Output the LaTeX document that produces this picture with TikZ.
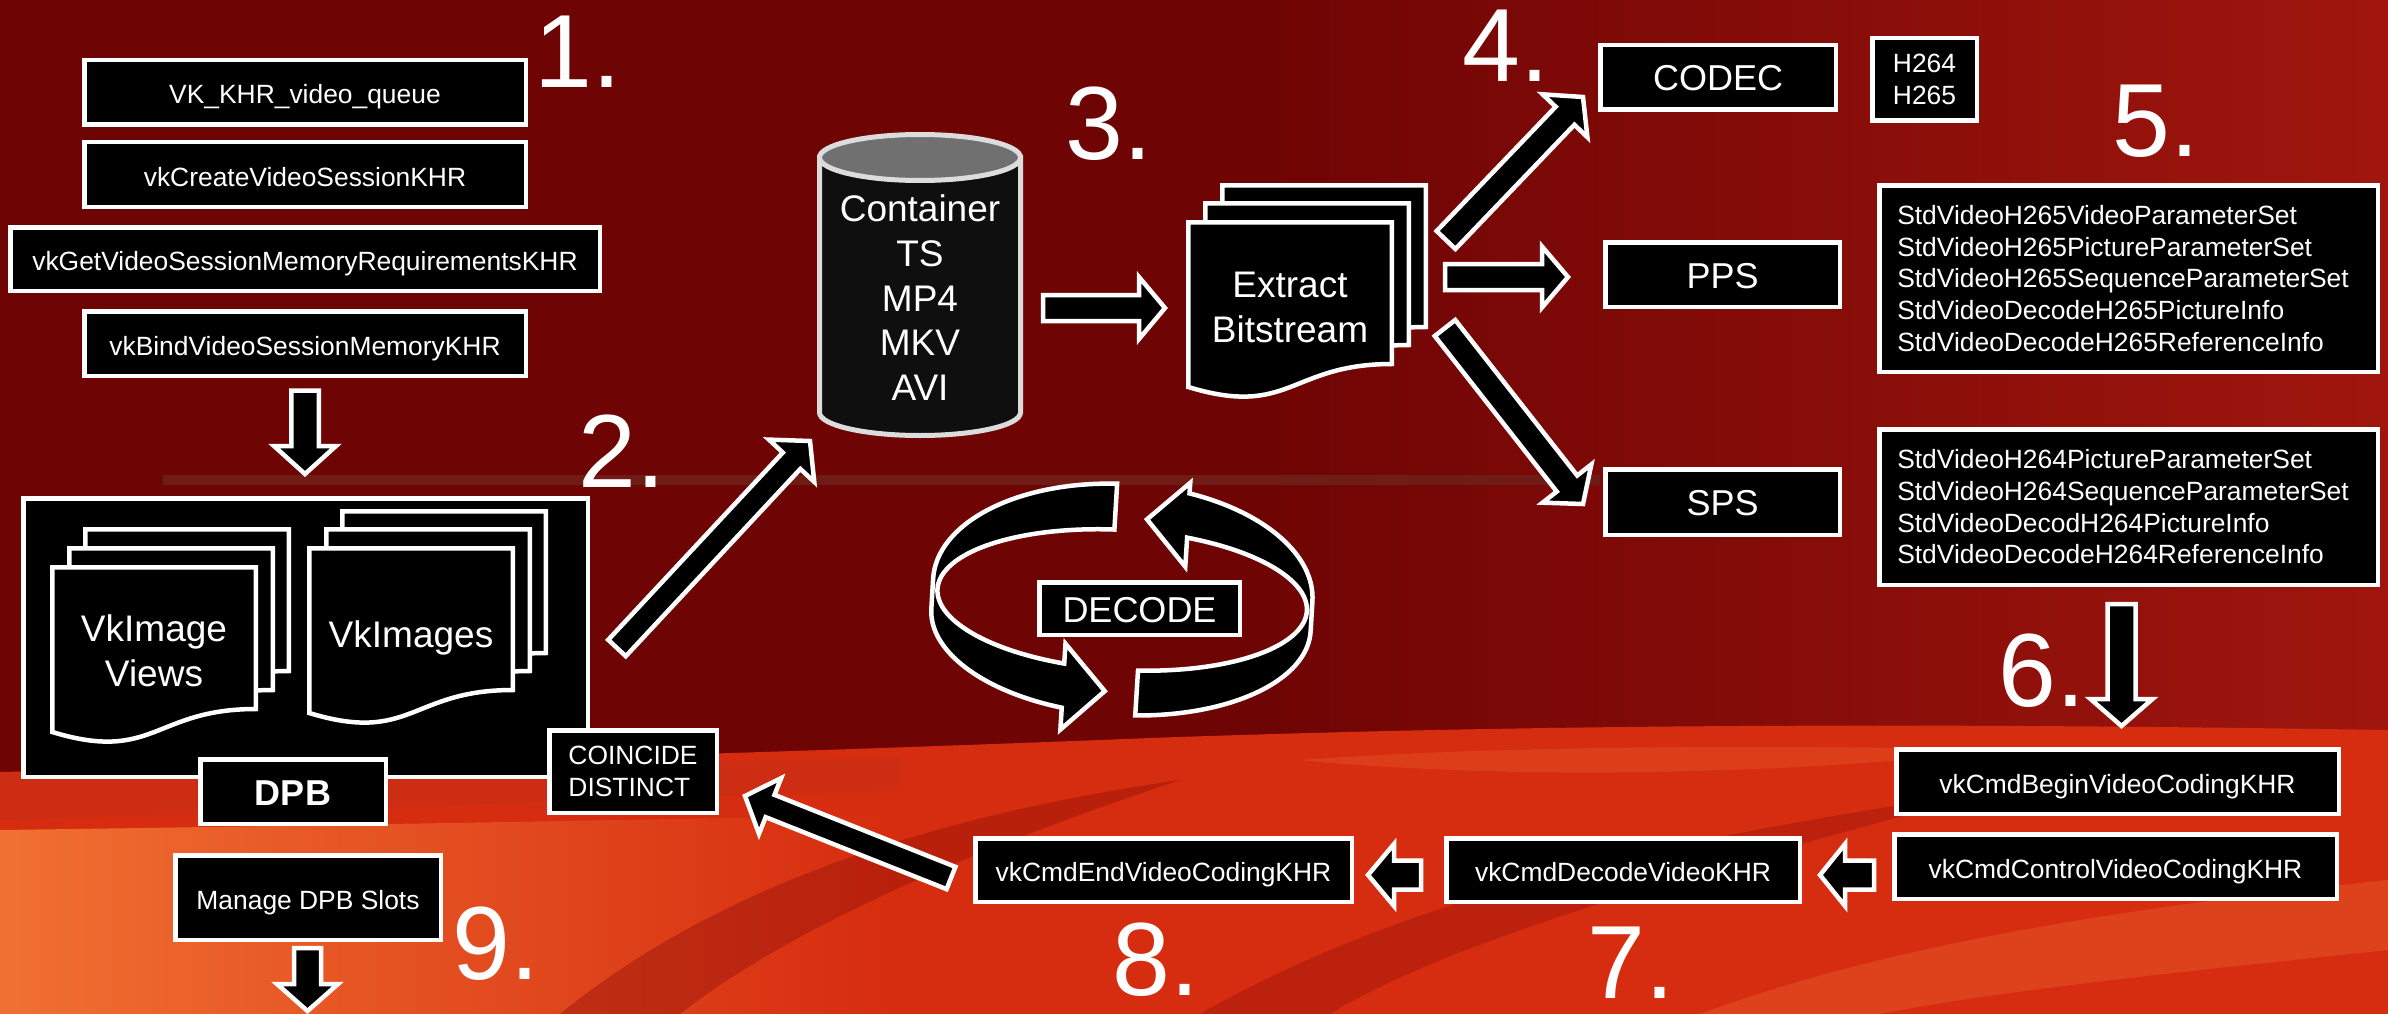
\documentclass[tikz,border=0pt]{standalone}
\usepackage{fontspec}
\setmainfont{Liberation Sans}
\usetikzlibrary{calc}
\definecolor{bgA}{RGB}{110,4,4}
\definecolor{bgR}{RGB}{160,22,14}
\definecolor{bgM}{RGB}{214,44,15}
\definecolor{bgN}{RGB}{200,46,22}
\definecolor{bgO}{RGB}{240,112,50}
\definecolor{bgD}{RGB}{150,18,10}
\definecolor{bgL}{RGB}{243,118,62}
\definecolor{stripe}{RGB}{112,28,22}
\definecolor{cylbody}{RGB}{15,15,15}
\definecolor{cyltop}{RGB}{112,112,112}
\definecolor{cylline}{RGB}{220,220,220}
\newcommand\fsmall{\fontsize{26.4pt}{31.7pt}\selectfont}
\newcommand\fbig{\fontsize{36pt}{44.5pt}\selectfont}
\newcommand\fdoc{\fontsize{37pt}{44.8pt}\selectfont}
\newcommand\fnum{\fontsize{104pt}{110pt}\selectfont}
\newcommand\docshape[2]{\draw[shapest] (#1+2.25,#2+2.25) -- (#1+205.75,#2+2.25) -- (#1+205.75,#2+144) .. controls (#1+104,#2+144) and (#1+104,#2+198) .. (#1+2.25,#2+167) -- cycle;}
\newcommand\blockarrow[5]{%
  \path ($(#2)!#5!(#1)$) coordinate (bab);
  \draw[shapest] ($(#1)!#3!90:(#2)$) -- ($(bab)!#3!90:(#2)$) -- ($(bab)!#4!90:(#2)$) -- (#2) -- ($(bab)!#4!-90:(#2)$) -- ($(bab)!#3!-90:(#2)$) -- ($(#1)!#3!-90:(#2)$) -- cycle;}
\begin{document}
\begin{tikzpicture}[x=1pt,y=-1pt,
  shapest/.style={fill=black, draw=white, line width=4.5pt, line join=miter, miter limit=10},
  sbox/.style={shapest, inner sep=0pt, text=white, font=\fsmall, text height=24.3pt, text depth=1.3pt},
  bbox/.style={shapest, inner sep=0pt, text=white, font=\fbig, text height=30.6pt, text depth=3.6pt},
  mbox/.style={shapest, inner sep=0pt, text=white, font=\fsmall},
  num/.style={text=white, font=\fnum, inner sep=0pt, anchor=base west},
  plaintext/.style={text=white, inner sep=0pt}]
\useasboundingbox (0,0) rectangle (2388,1014);
% ---------- background ----------
\fill[bgA] (0,0) rectangle (2388,1014);
\shade[left color=bgA, right color=bgR] (1250,0) rectangle (2388,760);
% lava / marble lower part
\fill[bgM] (0,772) .. controls (400,764) and (800,752) .. (1150,738) .. controls (1600,722) and (2000,724) .. (2388,730) -- (2388,1014) -- (0,1014) -- cycle;
\shade[left color=bgO, right color=bgM] (0,830) .. controls (300,826) and (500,822) .. (900,815) -- (900,1014) -- (0,1014) -- cycle;
\fill[bgN, opacity=.6] (0,772) .. controls (300,768) and (600,765) .. (900,758) -- (900,790) .. controls (600,800) and (300,810) .. (0,820) -- cycle;
\fill[bgD, opacity=.45] (560,1014) .. controls (700,900) and (900,820) .. (1180,780) .. controls (1000,840) and (800,920) .. (680,1014) -- cycle;
\fill[bgD, opacity=.4] (1200,1014) .. controls (1400,900) and (1650,840) .. (2000,790) .. controls (1700,870) and (1450,940) .. (1330,1014) -- cycle;
\fill[bgL, opacity=.3] (1700,1014) .. controls (1900,940) and (2150,905) .. (2388,880) -- (2388,950) .. controls (2200,970) and (2000,990) .. (1880,1014) -- cycle;
\fill[bgL, opacity=.25] (1300,760) .. controls (1500,745) and (1800,745) .. (2000,750) .. controls (1800,775) and (1500,780) .. (1300,760) -- cycle;
\fill[stripe] (163,475) rectangle (1600,485);
% ---------- step 1 ----------
\node[sbox, minimum width=441.5pt, minimum height=64.5pt] (b1) at (305,92.5) {VK\_KHR\_video\_queue};
\node[sbox, minimum width=441.5pt, minimum height=64.5pt] (b2) at (305,174.5) {vkCreateVideoSessionKHR};
\node[sbox, minimum width=589.5pt, minimum height=63.5pt] (b3) at (305,259) {vkGetVideoSessionMemoryRequirementsKHR};
\node[sbox, minimum width=441.5pt, minimum height=64.5pt] (b4) at (305,343.5) {vkBindVideoSessionMemoryKHR};
\coordinate (a1s) at (305,390.5); \coordinate (a1e) at (305,474);
\blockarrow{a1s}{a1e}{13.75pt}{31pt}{28pt}
% ---------- DPB ----------
\node[shapest, inner sep=0pt, minimum width=564.5pt, minimum height=278.5pt] (dpb) at (305.5,637.5) {};
\docshape{83}{527}\docshape{67}{546}\docshape{50}{565}
\node[plaintext, font=\fdoc, align=center] (views) at (154,651) {VkImage\\Views};
\docshape{340}{509}\docshape{324}{527}\docshape{307}{546}
\node[plaintext, font=\fdoc, anchor=base] (imgs) at (411,647) {VkImages};
\node[bbox, font=\fbig\bfseries, minimum width=185.5pt, minimum height=64.5pt] (dpbl) at (293,791.5) {DPB};
\node[mbox, align=left, minimum width=167.5pt, minimum height=82.5pt] (coin) at (633,771.5) {COINCIDE\\DISTINCT};
\node[sbox, minimum width=265.5pt, minimum height=84.5pt] (mng) at (308,897.5) {Manage DPB Slots};
\coordinate (a11s) at (307.5,948); \coordinate (a11e) at (307.5,1011);
\blockarrow{a11s}{a11e}{13.5pt}{30.5pt}{27pt}
% ---------- step 2 arrow ----------
\coordinate (a2s) at (617,648); \coordinate (a2e) at (810,441);
\blockarrow{a2s}{a2e}{12pt}{31pt}{27pt}
% ---------- container ----------
\draw[cylline, line width=5pt, fill=cylbody] (819.5,157.5) -- (819.5,412.5) arc[start angle=180, end angle=0, x radius=100.5, y radius=23] -- (1020.5,157.5) -- cycle;
\draw[cylline, line width=5pt, fill=cyltop] (920,157.5) ellipse [x radius=100.5, y radius=23];
\node[plaintext, font=\fdoc, align=center] (cyl) at (920,297.75) {Container\\TS\\MP4\\MKV\\AVI};
\coordinate (a3s) at (1043,308); \coordinate (a3e) at (1165,308);
\blockarrow{a3s}{a3e}{13pt}{31pt}{26pt}
% ---------- extract ----------
\docshape{1220}{183}\docshape{1203}{201}\docshape{1186}{220}
\node[plaintext, font=\fdoc, align=center] (ext) at (1290,307.3) {Extract\\Bitstream};
\coordinate (a4s) at (1446,240); \coordinate (a4e) at (1583,97);
\blockarrow{a4s}{a4e}{13pt}{31pt}{26pt}
\coordinate (a5s) at (1445,277); \coordinate (a5e) at (1568,277);
\blockarrow{a5s}{a5e}{13pt}{30.5pt}{26pt}
\coordinate (a6s) at (1445,328); \coordinate (a6e) at (1583,504);
\blockarrow{a6s}{a6e}{13pt}{31pt}{26pt}
% ---------- codec / pps / sps ----------
\node[bbox, minimum width=235.5pt, minimum height=64.5pt] (codec) at (1718,77.5) {CODEC};
\node[mbox, align=center, minimum width=104.5pt, minimum height=82.5pt] (hcodec) at (1924.5,79.5) {H264\\H265};
\node[bbox, minimum width=234.5pt, minimum height=64.5pt] (pps) at (1722.5,274.5) {PPS};
\node[bbox, minimum width=234.5pt, minimum height=65.5pt] (sps) at (1722.5,502) {SPS};
\node[mbox, align=left, text width=462.5pt, inner xsep=18pt, minimum height=186.5pt] (h265) at (2128.5,278.5) {StdVideoH265VideoParameterSet\\StdVideoH265PictureParameterSet\\StdVideoH265SequenceParameterSet\\StdVideoDecodeH265PictureInfo\\StdVideoDecodeH265ReferenceInfo};
\node[mbox, align=left, text width=462.5pt, inner xsep=18pt, minimum height=155.5pt] (h264) at (2128.5,507) {StdVideoH264PictureParameterSet\\StdVideoH264SequenceParameterSet\\StdVideoDecodH264PictureInfo\\StdVideoDecodeH264ReferenceInfo};
\coordinate (a7s) at (2121.5,604); \coordinate (a7e) at (2121.5,726);
\blockarrow{a7s}{a7e}{14pt}{31pt}{27pt}
% ---------- command buffer ----------
\node[sbox, minimum width=442.5pt, minimum height=64.5pt] (begin) at (2117.5,781.5) {vkCmdBeginVideoCodingKHR};
\node[sbox, minimum width=442.5pt, minimum height=64.5pt] (control) at (2115.5,866.5) {vkCmdControlVideoCodingKHR};
\node[sbox, minimum width=353.5pt, minimum height=63.5pt] (decode) at (1623,870) {vkCmdDecodeVideoKHR};
\node[sbox, minimum width=376.5pt, minimum height=63.5pt] (endc) at (1163.5,870) {vkCmdEndVideoCodingKHR};
\coordinate (a8s) at (1874,875); \coordinate (a8e) at (1820,875);
\blockarrow{a8s}{a8e}{14.5pt}{31pt}{25pt}
\coordinate (a9s) at (1421,875); \coordinate (a9e) at (1368,875);
\blockarrow{a9s}{a9e}{14.5pt}{31pt}{26pt}
\coordinate (a10s) at (951,878); \coordinate (a10e) at (745,796);
\blockarrow{a10s}{a10e}{12pt}{30pt}{27pt}
% ---------- decode cycle ----------
\begin{scope}[rotate around={-3.4:(1122,603)}]
\draw[shapest] (1110.07,484.2) arc[start angle=266.4, end angle=180, x radius=190, y radius=106] -- (932,620) arc[start angle=180, end angle=106.5, x radius=190, y radius=95] -- (1068,733) -- (1110,692) -- (1068,647) -- (1067.9,666.9) arc[start angle=107, end angle=266.3, x radius=185, y radius=70] -- cycle;
\draw[shapest] (1141.98,669.6) -- (1141.86,714.5) arc[start angle=84, end angle=0, x radius=190, y radius=95] -- (1312,590) arc[start angle=360, end angle=288.7, x radius=190, y radius=106] -- (1183,479) -- (1142,518) -- (1183,563) -- (1183.15,533.9) arc[start angle=289.3, end angle=443.8, x radius=185, y radius=70] -- cycle;
\end{scope}
\node[bbox, minimum width=200.5pt, minimum height=52.5pt] (dec) at (1139.5,608.5) {DECODE};
% ---------- step numbers ----------
\node[num] (n1) at (534,88) {1.};
\node[num] (n2) at (578,487) {2.};
\node[num] (n3) at (1065,160) {3.};
\node[num] (n4) at (1462,82) {4.};
\node[num] (n5) at (2112,157) {5.};
\node[num] (n6) at (1998,706) {6.};
\node[num] (n7) at (1587,998) {7.};
\node[num] (n8) at (1112,995) {8.};
\node[num] (n9) at (452,979) {9.};
\end{tikzpicture}
\end{document}
